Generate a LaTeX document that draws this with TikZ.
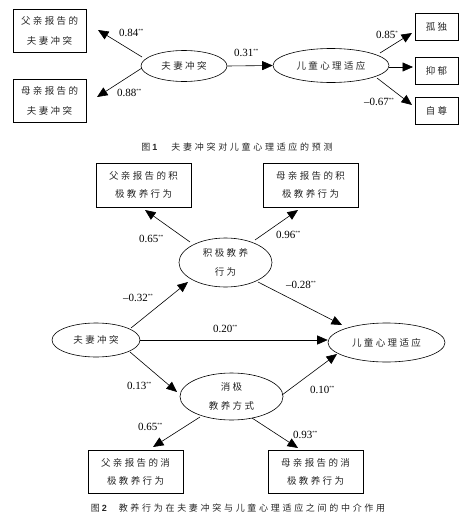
\documentclass[tikz,border=0pt]{standalone}
\usepackage{fontspec}
\setmainfont{Liberation Serif}
\newfontfamily\cjk[LetterSpace=25]{Noto Sans CJK SC}
\newfontfamily\cjkcap[LetterSpace=30]{Noto Sans CJK SC}
\newfontfamily\capsans{Liberation Sans}
\usetikzlibrary{arrows.meta,calc,shapes.geometric}
\newcommand{\sig}[1]{\raisebox{3.8pt}{\fontsize{5}{5}\selectfont #1}}
\begin{document}
\begin{tikzpicture}[x=1pt,y=-1pt,
  box/.style={draw, line width=0.8pt, inner sep=0pt, align=center, text=black!85, font=\cjk\fontsize{9.5}{20}\selectfont},
  boxb/.style={box, font=\cjk\fontsize{9.5}{18}\selectfont},
  ell/.style={ellipse, draw, line width=0.6pt, inner sep=0pt, align=center, text=black!85, font=\cjk\fontsize{9.5}{19}\selectfont},
  arr/.style={-{Triangle[length=10.5pt,width=9pt]}, line width=0.6pt},
  lab/.style={anchor=west, inner sep=0pt, font=\fontsize{11}{11}\selectfont},
  captext/.style={inner sep=0pt, text=black!85, font=\cjkcap\fontsize{9}{9}\selectfont}]
\useasboundingbox (0,0) rectangle (470,522);
% ---------- Figure 1 ----------
\node[box, minimum width=73pt, minimum height=43pt] (f1a) at (49.5,30.5) {父亲报告的\\夫妻冲突};
\node[box, minimum width=73pt, minimum height=43pt] (f1b) at (49.5,100.5) {母亲报告的\\夫妻冲突};
\node[ell, minimum width=86pt, minimum height=31pt] (e1) at (184,66) {夫妻冲突};
\node[ell, minimum width=116pt, minimum height=34pt] (e2) at (331,65.5) {儿童心理适应};
\node[box, minimum width=43pt, minimum height=27pt] (b1) at (436.5,26.5) {孤独};
\node[box, minimum width=43pt, minimum height=27pt] (b2) at (436.5,70.5) {抑郁};
\node[box, minimum width=43pt, minimum height=27pt] (b3) at (436.5,110.5) {自尊};

\draw[arr] ($(e1)+(-42,-9)$) -- ($(f1a)+(48.5,-0.5)$);
\draw[arr] ($(e1)+(-42,2)$) -- ($(f1b)+(47.5,-3.5)$);
\draw[arr] (e1.east) -- (e2.west);
\draw[arr] ($(e2)+(49,-12.5)$) -- ($(b1)+(-24.5,6.5)$);
\draw[arr] ($(e2)+(58,1.5)$) -- ($(b2)+(-23.5,-3.5)$);
\draw[arr] ($(e2)+(46,12.5)$) -- ($(b3)+(-24.5,-5.5)$);

\node[lab] (l1) at (119,33) {0.84\sig{**}};
\node[lab] (l2) at (117,93) {0.88\sig{**}};
\node[lab] (l3) at (234,53) {0.31\sig{**}};
\node[lab] (l4) at (376,35) {0.85\sig{*}};
\node[lab] (l5) at (364,102) {–0.67\sig{**}};

\node[captext] (c1) at (237,147) {图\hspace{2pt}{\capsans\bfseries 1}\hspace{14pt}夫妻冲突对儿童心理适应的预测};

% ---------- Figure 2 ----------
\node[boxb, minimum width=95pt, minimum height=44pt] (pa) at (143.5,185) {父亲报告的积\\极教养行为};
\node[boxb, minimum width=95pt, minimum height=44pt] (pb) at (310.5,185) {母亲报告的积\\极教养行为};
\node[ell, minimum width=93pt, minimum height=49pt] (ep) at (225.5,262.5) {积极教养\\行为};
\node[ell, minimum width=88pt, minimum height=34pt] (ec) at (96,340) {夫妻冲突};
\node[ell, minimum width=117pt, minimum height=39pt] (ek) at (386.5,342.5) {儿童心理适应};
\node[ell, minimum width=103pt, minimum height=47pt] (en) at (231.5,396.5) {消极\\教养方式};
\node[boxb, minimum width=95pt, minimum height=43pt] (na) at (135.5,471.5) {父亲报告的消\\极教养行为};
\node[boxb, minimum width=95pt, minimum height=43pt] (nb) at (315.5,471.5) {母亲报告的消\\极教养行为};

\draw[arr] ($(ep)+(-35.5,-20.5)$) -- ($(pa)+(1.5,25)$);
\draw[arr] ($(ep)+(29.5,-22.5)$) -- ($(pb)+(-12.5,25)$);
\draw[arr] ($(ec)+(35,-12)$) -- ($(ep)+(-37.5,19.5)$);
\draw[arr] (ec.east) -- (ec.east -| ek.west);
\draw[arr] ($(ec)+(34,12)$) -- ($(en)+(-54.5,-4.5)$);
\draw[arr] ($(ep)+(32.5,19.5)$) -- ($(ek)+(-44.5,-17.5)$);
\draw[arr] ($(en)+(50.5,-1.5)$) -- ($(ek)+(-49.5,11.5)$);
\draw[arr] ($(en)+(-31.5,20.5)$) -- ($(na)+(17.5,-24.5)$);
\draw[arr] ($(en)+(20.5,21.5)$) -- ($(nb)+(-17.5,-23.5)$);

\node[lab] (m1) at (139,239) {0.65\sig{**}};
\node[lab] (m2) at (276,235) {0.96\sig{**}};
\node[lab] (m3) at (286,285) {–0.28\sig{**}};
\node[lab] (m4) at (123,298) {–0.32\sig{**}};
\node[lab] (m5) at (213,329) {0.20\sig{**}};
\node[lab] (m6) at (127,386) {0.13\sig{**}};
\node[lab] (m7) at (310,390) {0.10\sig{**}};
\node[lab] (m8) at (138,427) {0.65\sig{**}};
\node[lab] (m9) at (293,435) {0.93\sig{**}};

\node[captext] (c2) at (238,508) {图\hspace{2pt}{\capsans\bfseries 2}\hspace{12pt}教养行为在夫妻冲突与儿童心理适应之间的中介作用};
\end{tikzpicture}
\end{document}
